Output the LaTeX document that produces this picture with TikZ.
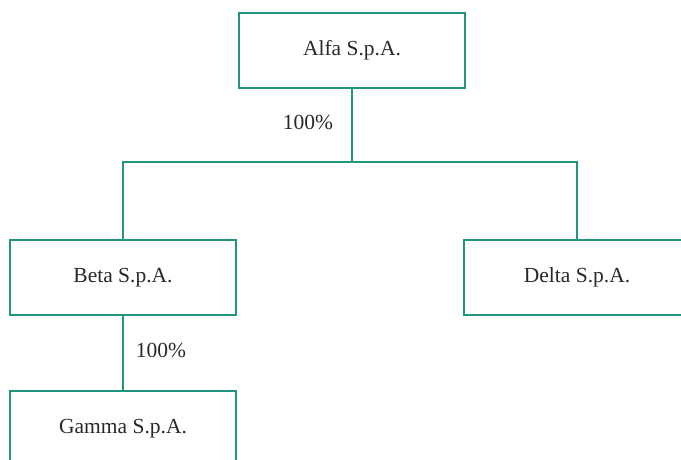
\documentclass[tikz,border=0pt]{standalone}
\usepackage{fontspec}
\setmainfont{Liberation Serif}
\usepackage{tikz}
\usetikzlibrary{positioning}
\definecolor{orgline}{RGB}{32,150,128}
\definecolor{orgtext}{RGB}{40,40,40}

\begin{document}
\begin{tikzpicture}[x=1pt,y=1pt]
		\tikzset{company/.style = {draw=orgline,line width=1.2pt,minimum width=226pt,minimum height=75pt,inner sep=0pt,text=orgtext,font=\fontsize{21.5}{24}\selectfont}}
		\tikzset{link/.style = {draw=orgline,line width=1.2pt}}
		\tikzset{share/.style = {text=orgtext,font=\fontsize{21.5}{24}\selectfont}}

		\clip (0,0) rectangle (681,-459);

		% companies
		\node[company] (alfa) at (352,-50.5){Alfa S.p.A.};
		\node[company] (beta) at (123,-277.5){Beta S.p.A.};
		\node[company] (delta) at (577,-277.5){Delta S.p.A.};
		\node[company] (gamma) at (123,-428.5){Gamma S.p.A.};

		% branch point
		\coordinate (fork) at (alfa.south |- 0,-162);

		% edges alfa -> beta, delta
		\draw[link] (alfa.south) -- (fork);
		\draw[link] (beta.north) |- (fork) -| (delta.north);
		% edge beta -> gamma
		\draw[link] (beta.south) -- (gamma.north);

		% shares
		\node[share] (s1) at (308,-122){100\%};
		\node[share] (s2) at (161,-350){100\%};
	\end{tikzpicture}
\end{document}
